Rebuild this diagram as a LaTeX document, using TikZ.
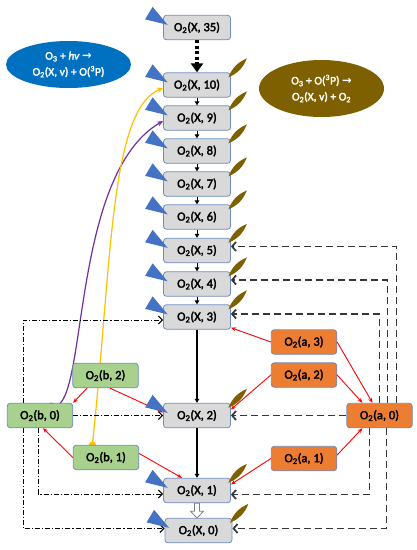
\documentclass[tikz,border=0pt]{standalone}
\usepackage{fontspec}
\setmainfont{Carlito}[BoldFont=Carlito, BoldFeatures={FakeBold=2.5}, BoldItalicFont=Carlito Italic, BoldItalicFeatures={FakeBold=2.5}]
\newfontfamily\symf{DejaVu Sans}
\usetikzlibrary{arrows.meta,shapes.geometric}
\definecolor{boxgray}{HTML}{D9D9D9}
\definecolor{boxline}{HTML}{6F8DC0}
\definecolor{grn}{HTML}{A9D18E}
\definecolor{org}{HTML}{ED7D31}
\definecolor{triblue}{HTML}{4472C4}
\definecolor{leafbr}{HTML}{7F6000}
\definecolor{ellblue}{HTML}{0070C0}
\definecolor{ellbrown}{HTML}{7F6000}
\definecolor{purp}{HTML}{7030A0}
\definecolor{yel}{HTML}{FFC000}
\definecolor{dgray}{HTML}{363636}
\newcommand{\Otw}{O\textsubscript{2}}
\newcommand{\Oth}{O\textsubscript{3}}
\pgfdeclarelayer{back}
\pgfdeclarelayer{bg}
\pgfsetlayers{back,bg,main}
\tikzset{
  xbox/.style={draw=boxline, fill=boxgray, rounded corners=3pt, minimum width=67pt, minimum height=24.5pt, inner sep=0pt, line width=0.8pt},
  gbox/.style={xbox, fill=grn, minimum width=65.5pt},
  obox/.style={xbox, fill=org, minimum width=65.5pt},
  varr/.style={black, line width=0.9pt, -{Triangle[length=4pt,width=4.5pt]}},
  redarr/.style={red, line width=0.9pt, -{Stealth[length=5pt,width=4pt]}},
  dasharr/.style={dgray, line width=1.7pt, dash pattern=on 7pt off 4pt, -{Straight Barb[length=4pt,width=9pt]}},
  ddarr/.style={black, line width=1pt, dash pattern=on 5pt off 2pt on 1.2pt off 2pt, -{Straight Barb[length=4pt,width=8pt]}},
  ellnode/.style={ellipse, inner sep=0pt, text=white, align=center, font=\bfseries\fontsize{11.5}{16}\selectfont},
  tri/.style={fill=triblue},
  leaf/.style={fill=leafbr}
}
\newcommand{\triat}[1]{\fill[tri] ([shift={(-10.5,-8)}]#1.north west) -- ([shift={(-18,4.5)}]#1.north west) -- ([shift={(4.5,10)}]#1.north west) -- cycle;}
\newcommand{\leafat}[1]{\fill[leaf] ([shift={(-2.5,5)}]#1.north east) to[bend left=22] ([shift={(16,-14)}]#1.north east) to[bend left=22] ([shift={(-2.5,5)}]#1.north east) -- cycle;}
\begin{document}
\begin{tikzpicture}[x=1pt,y=-1pt,font=\bfseries\fontsize{12.5}{14}\selectfont]
\begin{pgfonlayer}{back}
\fill[white] (0,0) rectangle (417,550);
\end{pgfonlayer}
\useasboundingbox (0,0) rectangle (417,550);

% ellipses
\node[ellnode, fill=ellblue, minimum width=125pt, minimum height=47pt] (e1) at (68.5,64.5) {\Oth{} + \textit{hv} {\symf →}\\ \Otw(X, v) + O(\textsuperscript{3}P)};
\node[ellnode, fill=ellbrown, minimum width=125pt, minimum height=57pt] (e2) at (321.5,88.5) {\Oth{} + O(\textsuperscript{3}P) {\symf →}\\ \Otw(X, v) + \Otw};

% X ladder
\node[xbox] (x35) at (197,27.5) {\Otw(X, 35)};
\node[xbox] (x10) at (197,85) {\Otw(X, 10)};
\node[xbox] (x9) at (197,118) {\Otw(X, 9)};
\node[xbox] (x8) at (197,151) {\Otw(X, 8)};
\node[xbox] (x7) at (197,184) {\Otw(X, 7)};
\node[xbox] (x6) at (197,217) {\Otw(X, 6)};
\node[xbox] (x5) at (197,250.5) {\Otw(X, 5)};
\node[xbox] (x4) at (197,284) {\Otw(X, 4)};
\node[xbox] (x3) at (197,317) {\Otw(X, 3)};
\node[xbox] (x2) at (197,415.5) {\Otw(X, 2)};
\node[xbox] (x1) at (197,490.5) {\Otw(X, 1)};
\node[xbox] (x0) at (198.5,530.5) {\Otw(X, 0)};

% b states
\node[gbox] (b2) at (105.5,375.5) {\Otw(b, 2)};
\node[gbox] (b0) at (40,415.5) {\Otw(b, 0)};
\node[gbox] (b1) at (106,457.5) {\Otw(b, 1)};

% a states
\node[obox] (a3) at (304,342) {\Otw(a, 3)};
\node[obox] (a2) at (304,375) {\Otw(a, 2)};
\node[obox] (a0) at (379.5,415.5) {\Otw(a, 0)};
\node[obox] (a1) at (304,458.5) {\Otw(a, 1)};

\begin{pgfonlayer}{bg}
% curves
\draw[purp, line width=1.2pt, {Circle[length=7pt]}-{Stealth[length=6pt,width=5pt]}] ([xshift=8pt,yshift=-3.5pt]b0.north) .. controls (88,405) and (70,175) .. ([yshift=-3pt]x9.west);
\draw[yel, line width=1.2pt, {Circle[length=7pt]}-{Stealth[length=6pt,width=5pt]}] ([xshift=-14pt,yshift=-3.5pt]b1.north) .. controls (112,260) and (110,110) .. ([yshift=-3pt]x10.west);
% dashed from a0
\draw[dasharr] (a0.north) |- ([yshift=3pt]x3.east);
\draw[dasharr] ([xshift=8pt]a0.north) |- ([yshift=4pt]x4.east);
\draw[dasharr] ([xshift=17pt]a0.north) |- ([yshift=4pt]x5.east);
\draw[dasharr] (a0.west) -- (x2.east);
\draw[dasharr] ([xshift=-10pt]a0.south) |- ([yshift=-4pt]x1.east);
\draw[dasharr] ([xshift=7pt]a0.south) |- ([yshift=2pt]x0.east);
% dash-dot from b0
\draw[ddarr] ([xshift=-17pt]b0.north) |- ([yshift=-3pt]x3.west);
\draw[ddarr] (b0.east) -- (x2.west);
\draw[ddarr] ([xshift=-2pt]b0.south) |- ([yshift=-3.5pt]x1.west);
\draw[ddarr] ([xshift=-17pt]b0.south) |- ([yshift=2pt]x0.west);
\end{pgfonlayer}

% vertical transitions
\draw[black, line width=3.2pt, dash pattern=on 3pt off 2.5pt, -{Triangle[length=9pt,width=12pt]}] (x35.south) -- (x10.north);
\draw[varr] (x10) -- (x9);
\draw[varr] (x9) -- (x8);
\draw[varr] (x8) -- (x7);
\draw[varr] (x7) -- (x6);
\draw[varr] (x6) -- (x5);
\draw[varr] (x5) -- (x4);
\draw[varr] (x4) -- (x3);
\draw[varr, line width=1.1pt] (x3) -- (x2);
\draw[varr, line width=1.1pt] (x2) -- (x1);
\draw[draw=gray, fill=white, line width=0.8pt] ([xshift=-2.5pt]x1.south) -- ++(0,8) -- ++(-4,0) -- ++(6.5,7) -- ++(6.5,-7) -- ++(-4,0) -- ++(0,-8) -- cycle;

% red transitions
\draw[redarr] ([xshift=-18.5pt]b2.south) -- (b0.north east);
\draw[redarr] ([xshift=4.5pt]b2.south) -- ([yshift=3pt]x2.west);
\draw[redarr] (b1.west) -- ([xshift=3pt]b0.south);
\draw[redarr] ([yshift=4pt]b1.east) -- ([xshift=-15pt]x1.north);
\draw[redarr] (a3.west) -- ([yshift=2pt]x3.south east);
\draw[redarr] (a3.east) -- ([xshift=-7pt]a0.north);
\draw[redarr] (a2.west) -- ([yshift=6pt]x2.east);
\draw[redarr] (a2.east) -- ([xshift=-17pt]a0.north);
\draw[redarr] (a1.west) -- ([yshift=6pt]x1.east);
\draw[redarr] ([yshift=3.5pt]a1.east) -- ([xshift=-17pt]a0.south);

% blue triangles and leaves
\triat{x35}\triat{x10}\triat{x9}\triat{x8}\triat{x7}\triat{x6}\triat{x5}\triat{x4}\triat{x3}\triat{x2}\triat{x1}\triat{x0}
\leafat{x10}\leafat{x9}\leafat{x8}\leafat{x7}\leafat{x6}\leafat{x5}\leafat{x4}\leafat{x3}\leafat{x2}\leafat{x1}\leafat{x0}
\end{tikzpicture}
\end{document}
